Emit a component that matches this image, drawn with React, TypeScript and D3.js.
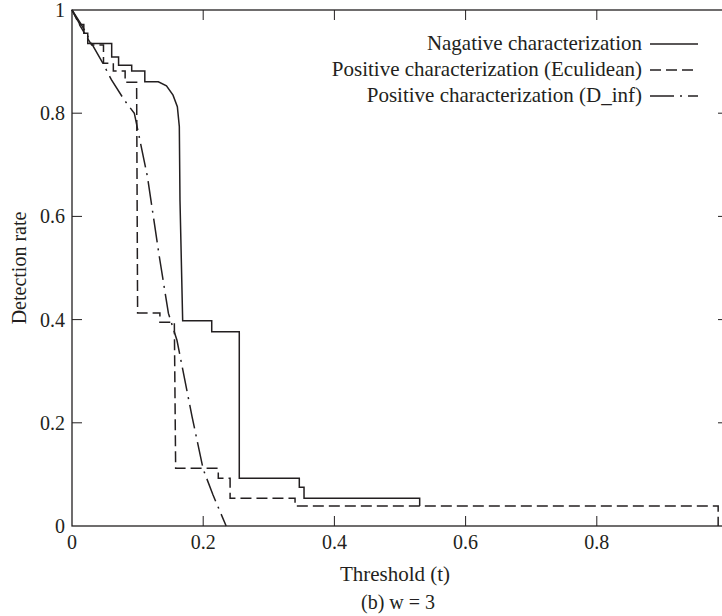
import React from "react";
import * as d3 from "d3";

const W = 722;
const H = 616;

// Negative characterization (solid)
const negT = [0, 0.012, 0.018, 0.018, 0.024, 0.024, 0.0605, 0.0605, 0.071, 0.071, 0.091, 0.091, 0.111, 0.111, 0.1316, 0.144, 0.154, 0.1606, 0.1636, 0.1646, 0.1687, 0.213, 0.213, 0.255, 0.255, 0.3465, 0.3465, 0.3537, 0.3537, 0.53, 0.53];
const negR = [1, 0.972, 0.972, 0.955, 0.955, 0.935, 0.935, 0.909, 0.909, 0.893, 0.893, 0.882, 0.882, 0.861, 0.861, 0.853, 0.835, 0.8126, 0.774, 0.632, 0.398, 0.398, 0.3765, 0.3765, 0.0924, 0.0924, 0.075, 0.075, 0.0536, 0.0536, 0.0388];

// Positive characterization (Euclidean) (dashed)
const eucT = [0, 0.012, 0.03, 0.048, 0.048, 0.063, 0.063, 0.081, 0.081, 0.0985, 0.1, 0.134, 0.134, 0.156, 0.158, 0.223, 0.223, 0.241, 0.241, 0.34, 0.34, 0.985, 0.985];
const eucR = [1, 0.97, 0.932, 0.932, 0.897, 0.897, 0.882, 0.882, 0.86, 0.86, 0.413, 0.413, 0.395, 0.395, 0.112, 0.112, 0.0925, 0.0925, 0.0536, 0.0536, 0.0388, 0.0388, 0];

// Positive characterization (D_inf) (dash-dot)
const dinfT = [0, 0.015, 0.03, 0.047, 0.06, 0.08, 0.095, 0.115, 0.133, 0.147, 0.16, 0.183, 0.2, 0.215, 0.235];
const dinfR = [1, 0.97, 0.935, 0.897, 0.865, 0.825, 0.8, 0.677, 0.523, 0.412, 0.36, 0.212, 0.11, 0.06, 0];

const xTicks = [0, 0.2, 0.4, 0.6, 0.8, 1];
const xTickLabels = ["0", "0.2", "0.4", "0.6", "0.8", "1"];
const yTicks = [0, 0.2, 0.4, 0.6, 0.8, 1];
const yTickLabels = ["0", "0.2", "0.4", "0.6", "0.8", "1"];

const legendLabels = [
  "Nagative characterization",
  "Positive characterization (Eculidean)",
  "Positive characterization (D_inf)",
];

const FONT = "'Liberation Serif', 'DejaVu Serif', serif";
const INK = "#231f20";

export default function App() {
  const x = d3.scaleLinear().domain([0, 1]).range([72, 728]);
  const y = d3.scaleLinear().domain([0, 1]).range([526, 10]);

  const line = d3
    .line<[number, number]>()
    .x((d) => x(d[0]))
    .y((d) => y(d[1]));

  const series = [
    { t: negT, r: negR, dash: "none" },
    { t: eucT, r: eucR, dash: "11,5" },
    { t: dinfT, r: dinfR, dash: "24,6,2,6" },
  ];

  const tickLen = 10;
  const legX = 642;
  const legY = [44, 70, 96];

  return (
    <svg width={W} height={H} style={{ display: "block", position: "absolute", left: 0, top: 0 }}>
      <rect x={0} y={0} width={W} height={H} fill="#fff" />
      {/* frame */}
      <rect
        x={x(0)}
        y={y(1)}
        width={x(1) - x(0)}
        height={y(0) - y(1)}
        fill="none"
        stroke={INK}
        strokeWidth={1.3}
      />
      {/* ticks */}
      {xTicks.slice(1, -1).map((t, i) => (
        <g key={"xt" + i}>
          <line x1={x(t)} x2={x(t)} y1={y(0)} y2={y(0) - tickLen} stroke={INK} strokeWidth={1} />
          <line x1={x(t)} x2={x(t)} y1={y(1)} y2={y(1) + tickLen} stroke={INK} strokeWidth={1} />
        </g>
      ))}
      {yTicks.slice(1, -1).map((t, i) => (
        <g key={"yt" + i}>
          <line x1={x(0)} x2={x(0) + tickLen} y1={y(t)} y2={y(t)} stroke={INK} strokeWidth={1} />
          <line x1={x(1)} x2={x(1) - tickLen} y1={y(t)} y2={y(t)} stroke={INK} strokeWidth={1} />
        </g>
      ))}
      {/* tick labels */}
      {xTicks.map((t, i) => (
        <text
          key={"xl" + i}
          x={x(t)}
          y={y(0) + 23}
          textAnchor="middle"
          fontFamily={FONT}
          fontSize={20}
          fill={INK}
        >
          {xTickLabels[i]}
        </text>
      ))}
      {yTicks.map((t, i) => (
        <text
          key={"yl" + i}
          x={x(0) - 7}
          y={y(t) + 7}
          textAnchor="end"
          fontFamily={FONT}
          fontSize={20}
          fill={INK}
        >
          {yTickLabels[i]}
        </text>
      ))}
      {/* axis titles */}
      <text x={395} y={581} textAnchor="middle" fontFamily={FONT} fontSize={21} fill={INK}>
        Threshold (t)
      </text>
      <text x={398} y={609} textAnchor="middle" fontFamily={FONT} fontSize={20} fill={INK}>
        (b) w = 3
      </text>
      <text
        transform={`translate(26, ${(y(0) + y(1)) / 2}) rotate(-90)`}
        textAnchor="middle"
        fontFamily={FONT}
        fontSize={20}
        fill={INK}
      >
        Detection rate
      </text>
      {/* series */}
      {series.map((s, i) => (
        <path
          key={"s" + i}
          d={line(s.t.map((t, j) => [t, s.r[j]] as [number, number])) || ""}
          fill="none"
          stroke={INK}
          strokeWidth={1.5}
          strokeDasharray={s.dash}
        />
      ))}
      {/* legend */}
      {legendLabels.map((lab, i) => (
        <g key={"lg" + i}>
          <text
            x={legX}
            y={legY[i] + 6}
            textAnchor="end"
            fontFamily={FONT}
            fontSize={21}
            fill={INK}
          >
            {lab}
          </text>
          <line
            x1={legX + 8}
            x2={legX + 56}
            y1={legY[i]}
            y2={legY[i]}
            stroke={INK}
            strokeWidth={1.5}
            strokeDasharray={series[i].dash}
          />
        </g>
      ))}
    </svg>
  );
}
